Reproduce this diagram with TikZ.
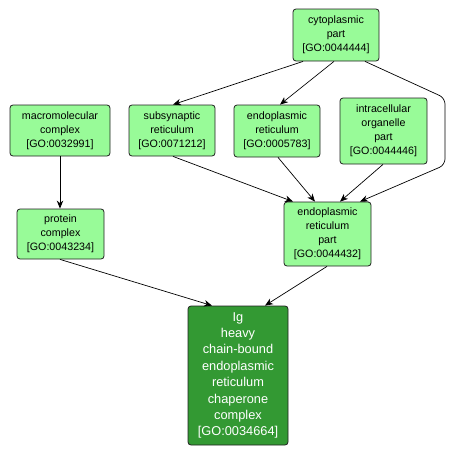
\documentclass[tikz,border=0pt]{standalone}
\usepackage{fontspec}
\setmainfont{Liberation Sans}
\usetikzlibrary{arrows.meta}
\definecolor{lgreen}{HTML}{98FB98}
\definecolor{dgreen}{HTML}{339933}
\definecolor{bord}{HTML}{202020}
\begin{document}
\begin{tikzpicture}[x=1pt,y=-1pt,
  term/.style={draw=bord,line width=0.8pt,fill=lgreen,rounded corners=3pt,align=center,
    inner sep=0pt,font=\fontsize{10.7}{14}\selectfont},
  focus/.style={draw=bord,line width=0.8pt,fill=dgreen,rounded corners=3pt,align=center,
    inner sep=0pt,text=white,font=\fontsize{12.8}{16.4}\selectfont},
  arr/.style={draw=black,line width=0.7pt,-{Stealth[length=8pt,width=6.5pt,inset=2.5pt]}}]
\useasboundingbox (0,0) rectangle (456,455);
\node[term,minimum width=86pt,minimum height=52pt] (cyto) at (336,35) {cytoplasmic\\part\\{[GO:0044444]}};
\node[term,minimum width=87pt,minimum height=66pt] (intra) at (383.5,131) {intracellular\\organelle\\part\\{[GO:0044446]}};
\node[term,minimum width=100pt,minimum height=51pt] (macro) at (60,130.5) {macromolecular\\complex\\{[GO:0032991]}};
\node[term,minimum width=86pt,minimum height=51pt] (subsyn) at (172,130.5) {subsynaptic\\reticulum\\{[GO:0071212]}};
\node[term,minimum width=86pt,minimum height=52pt] (er) at (277,131) {endoplasmic\\reticulum\\{[GO:0005783]}};
\node[term,minimum width=87pt,minimum height=50pt] (prot) at (60.5,234) {protein\\complex\\{[GO:0043234]}};
\node[term,minimum width=87pt,minimum height=64pt] (erpart) at (327.5,234) {endoplasmic\\reticulum\\part\\{[GO:0044432]}};
\node[focus,minimum width=100pt,minimum height=139pt] (ig) at (238,375.5) {Ig\\heavy\\chain-bound\\endoplasmic\\reticulum\\chaperone\\complex\\{[GO:0034664]}};
\coordinate (b1) at (445,98);
\coordinate (b2) at (445,165);
\draw[arr] ([xshift=-33pt]cyto.south) -- ([xshift=1pt]subsyn.north);
\draw[arr] ([xshift=-2pt]cyto.south) -- ([xshift=3pt]er.north);
\draw[arr,rounded corners=6pt] ([xshift=29pt]cyto.south) -- (b1) -- (b2) -- ([xshift=32.5pt]erpart.north);
\draw[arr] ([xshift=1pt]subsyn.south) -- ([xshift=-34.5pt]erpart.north);
\draw[arr] ([xshift=1pt]er.south) -- ([xshift=-12.5pt]erpart.north);
\draw[arr] ([xshift=-0.5pt]intra.south) -- ([xshift=12.5pt]erpart.north);
\draw[arr,line width=1pt] (macro.south) -- (macro.south |- prot.north);
\draw[arr] ([xshift=-0.5pt]prot.south) -- ([xshift=-26pt]ig.north);
\draw[arr] ([xshift=-0.5pt]erpart.south) -- ([xshift=27pt]ig.north);
\end{tikzpicture}
\end{document}
